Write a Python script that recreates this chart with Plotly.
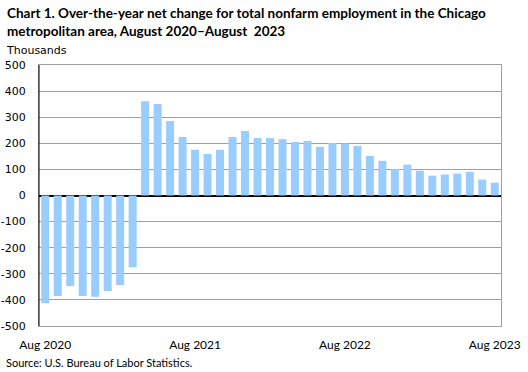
import plotly.graph_objects as go

months = []
mnames = ["Jan", "Feb", "Mar", "Apr", "May", "Jun", "Jul", "Aug", "Sep", "Oct", "Nov", "Dec"]
y, m = 2020, 7
for _ in range(37):
    months.append(f"{mnames[m]} {y}")
    m += 1
    if m == 12:
        m = 0
        y += 1

values = [-413, -385, -347, -385, -388, -366, -343, -275,
          361, 351, 285, 224, 175, 159, 175, 224, 247, 220,
          220, 216, 205, 209, 186, 201, 199, 190, 152, 133,
          101, 118, 95, 76, 80, 84, 91, 61, 49]

tick_labels = ["Aug 2020", "Aug 2021", "Aug 2022", "Aug 2023"]
y_ticks = list(range(-500, 501, 100))
y_ticktext = [str(v) for v in y_ticks]

W, H = 528, 372
L, R, T, B = 39, 501, 64.5, 326.5

def px(x):
    return (x - L) / (R - L)

def py(yy):
    return (B - yy) / (B - T)

fig = go.Figure(go.Bar(x=months, y=values, marker_color="#99CCFF",
                       marker_line_width=0))

fig.update_layout(
    width=W, height=H,
    margin=dict(l=L, r=W - R, t=T, b=H - B, autoexpand=False),
    paper_bgcolor="white", plot_bgcolor="white",
    bargap=0.36,
    showlegend=False,
    xaxis=dict(tickmode="array", tickvals=tick_labels, ticktext=tick_labels,
               showgrid=False, showline=True, linecolor="#a0a0a0", mirror=True,
               ticks="", ticklabelstandoff=8, automargin=False,
               tickfont=dict(family="Lato", size=12, color="black"),
               range=[-0.5, 36.5]),
    yaxis=dict(range=[-500, 500], tickvals=y_ticks, ticktext=y_ticktext,
               showgrid=True, gridcolor="#a0a0a0", gridwidth=1, zeroline=True,
               zerolinecolor="black", zerolinewidth=1.5,
               showline=True, linecolor="#a0a0a0", mirror=True,
               ticks="", ticklabelstandoff=10, automargin=False,
               tickfont=dict(family="DejaVu Sans", size=11, color="black")),
    shapes=[dict(type="line", xref="paper", yref="paper", x0=0, x1=0, y0=0, y1=1,
                 line=dict(color="black", width=1))],
    annotations=[
        dict(text="<b>Chart 1. Over-the-year net change for total nonfarm employment in the Chicago</b>",
             xref="paper", yref="paper", x=px(5), y=py(12), xanchor="left", yanchor="middle",
             showarrow=False, font=dict(family="Lato", size=13.5, color="black")),
        dict(text="<b>metropolitan area, August 2020\u2013August  2023</b>",
             xref="paper", yref="paper", x=px(5), y=py(30), xanchor="left", yanchor="middle",
             showarrow=False, font=dict(family="Lato", size=13.5, color="black")),
        dict(text="Thousands",
             xref="paper", yref="paper", x=px(4), y=py(50), xanchor="left", yanchor="middle",
             showarrow=False, font=dict(family="DejaVu Sans", size=11, color="black")),
        dict(text="Source: U.S. Bureau of Labor Statistics.",
             xref="paper", yref="paper", x=px(4), y=py(363), xanchor="left", yanchor="middle",
             showarrow=False, font=dict(family="Lato", size=11, color="black")),
    ],
)

fig.write_html("out.html", config={"displayModeBar": False},
               post_script="document.body.style.margin='0';")
